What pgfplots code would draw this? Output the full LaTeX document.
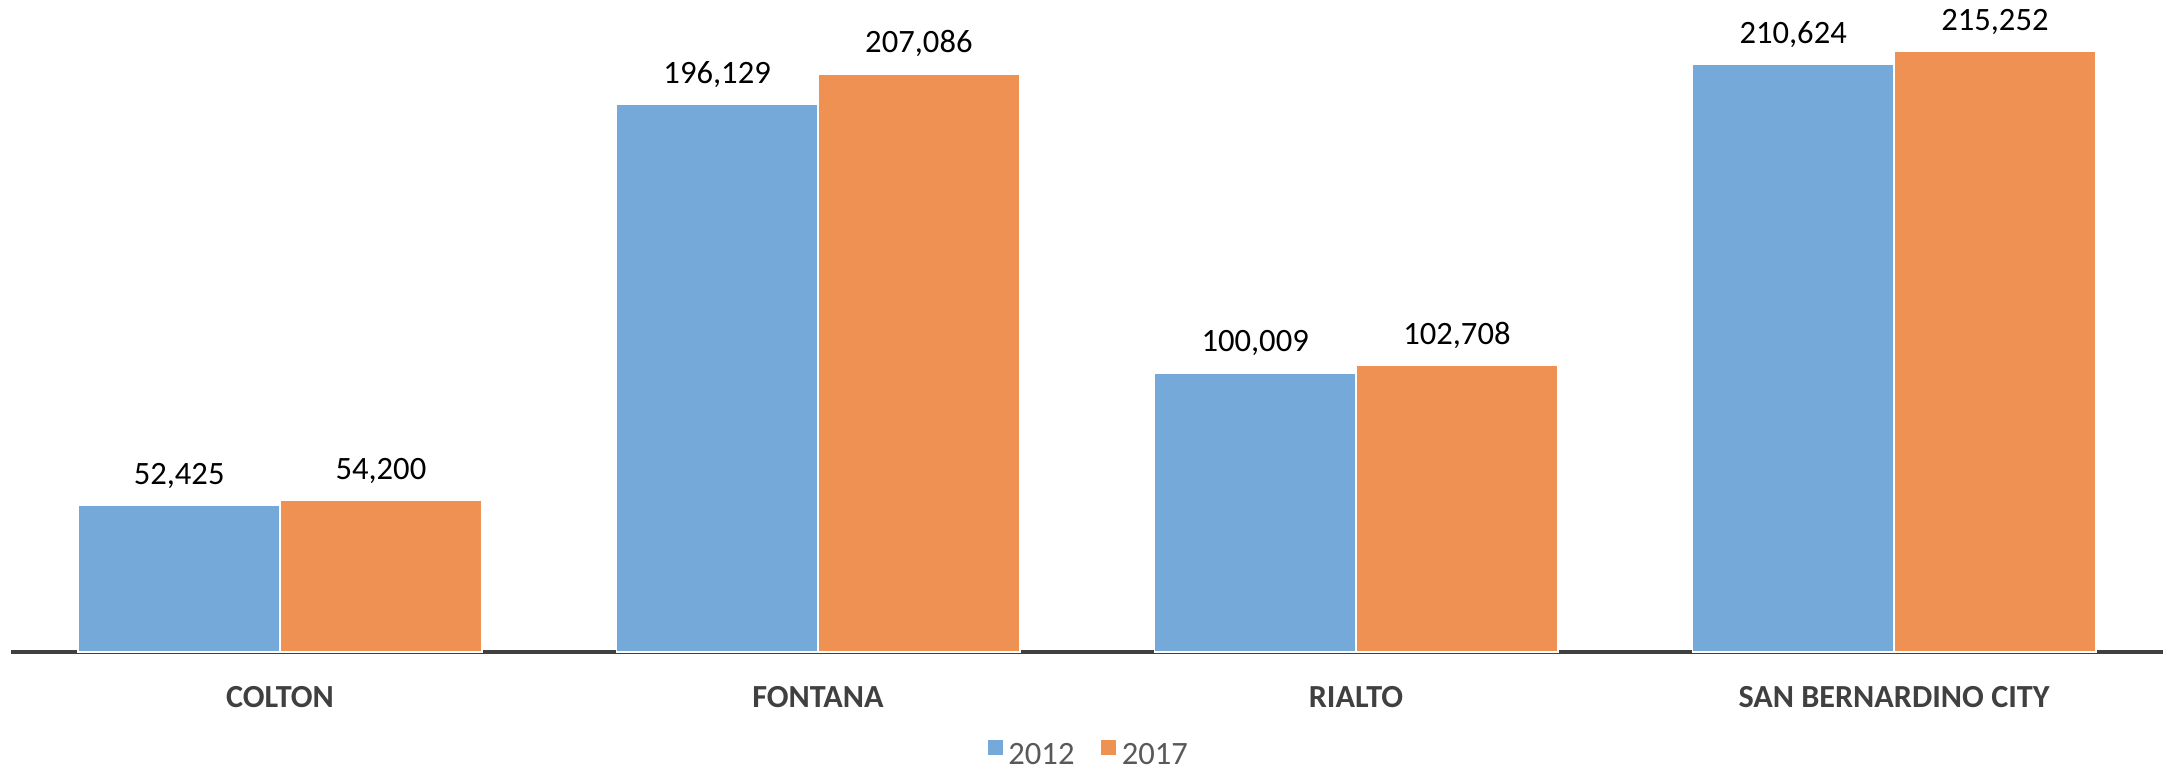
\documentclass[border=0pt]{standalone}
\usepackage{pgfplots}
\pgfplotsset{compat=1.18}
\usepackage{fontspec}
\setmainfont{Carlito}

\definecolor{bar12}{RGB}{116,169,218}
\definecolor{bar17}{RGB}{239,145,82}
\definecolor{axisgray}{RGB}{64,64,64}
\definecolor{leggray}{RGB}{89,89,89}

\begin{document}
\begin{tikzpicture}
	\begin{axis}[
		name=ax,
		scale only axis,
		width=1076pt, height=326pt,
		xmin=-0.5, xmax=3.5,
		ymin=0, ymax=233600,
		axis x line*=bottom,
		axis y line=none,
		x axis line style={draw=axisgray, line width=1.75pt, -},
		xtick={0,1,2,3},
		xticklabels={COLTON,FONTANA,RIALTO,SAN BERNARDINO CITY},
		major tick length=0pt,
		xticklabel style={font=\fontsize{16.1}{18}\selectfont\bfseries, text=axisgray, anchor=base, yshift=-27.6pt},
		ybar, bar width=0.375,
		clip=false,
		nodes near coords,
		nodes near coords style={font=\fontsize{16.3}{18}\selectfont, text=black, anchor=base, inner sep=0pt, yshift=10.5pt},
		/pgf/number format/fixed,
		/pgf/number format/1000 sep={,},
		/pgf/number format/assume math mode=true,
		legend columns=2,
		legend style={draw=none, fill=none, at={(0.5,0)}, anchor=north, yshift=-41pt, xshift=1pt,
			font=\fontsize{16.3}{18}\selectfont, text=leggray,
			/tikz/every even column/.append style={column sep=10.5pt}},
		legend image code/.code={\fill[#1] (0pt,-0.5pt) rectangle (8.4pt,7.9pt);},
	]
		\addplot[fill=bar12, draw=white, line width=0.75pt, bar shift=-0.1875]
			coordinates {(0,52425) (1,196129) (2,100009) (3,210624)};
		\addlegendentry{2012}
		\addplot[fill=bar17, draw=white, line width=0.75pt, bar shift=0.1875]
			coordinates {(0,54200) (1,207086) (2,102708) (3,215252)};
		\addlegendentry{2017}
	\end{axis}
	\pgfresetboundingbox
	\path[use as bounding box] ([xshift=-5.5pt,yshift=-59.5pt]ax.south west) rectangle (ax.north east);
\end{tikzpicture}
\end{document}
